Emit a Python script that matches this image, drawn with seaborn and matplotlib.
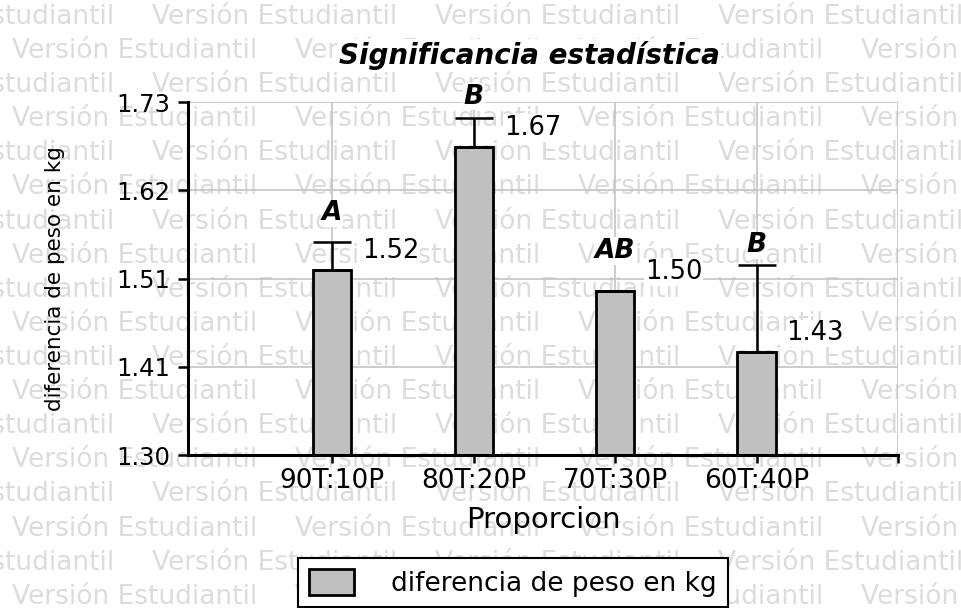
import numpy as np
import pandas as pd
import matplotlib
matplotlib.use("Agg")
import matplotlib.pyplot as plt
import seaborn as sns

# ---- data ----
categories = ["90T:10P", "80T:20P", "70T:30P", "60T:40P"]
values = [1.525, 1.675, 1.50, 1.425]
errors = [0.034, 0.036, 0.0, 0.106]
value_labels = ["1.52", "1.67", "1.50", "1.43"]
letters = ["A", "B", "AB", "B"]
y_ticks = [1.30, 1.4075, 1.515, 1.6225, 1.73]
y_tick_labels = ["1.30", "1.41", "1.51", "1.62", "1.73"]
series_name = "diferencia de peso en kg"

# ---- styling ----
letter_offsets_px = [29, 21, 40, 20]
PX = 0.72  # points per pixel at dpi 100

sns.set_theme(style="white")
plt.rcParams['font.family'] = ['DejaVu Sans']
plt.rcParams['text.color'] = 'black'

fig = plt.figure(figsize=(9.61, 6.08), dpi=100)
fig.patch.set_facecolor("white")

# watermark background
bg = fig.add_axes([0, 0, 1, 1], zorder=0)
bg.set_xlim(0, 961)
bg.set_ylim(608, 0)
bg.axis('off')
for k in range(18):
    y = 17 + 34.1 * k
    start = -131 if k % 2 == 0 else 12
    for x in np.arange(start, 961, 283):
        bg.text(x, y, "Versión Estudiantil", color="#dcdcdc", fontsize=19,
                ha='left', va='center')

ax = fig.add_axes([188 / 961, 1 - 455 / 608, 710 / 961, 353 / 608], zorder=1)
ax.patch.set_alpha(0)

df = pd.DataFrame({"Proporcion": categories, "valor": values})
sns.barplot(data=df, x="Proporcion", y="valor", color="#c0c0c0", saturation=1,
            edgecolor="black", linewidth=2, width=0.27, errorbar=None, ax=ax, zorder=2)
ax.errorbar(np.arange(len(values)), values, yerr=[np.zeros(len(errors)), errors],
            fmt='none', ecolor='black', elinewidth=1.8, capsize=13.5, capthick=1.8, zorder=3)

ax.set_ylim(1.30, 1.73)
ax.set_xlim(-1.02, 4.0)
ax.set_yticks(y_ticks, y_tick_labels)
ax.set_xticks(range(len(categories) + 1), categories + [""])
ax.grid(True, color="#c4c4c4", lw=1.2)
ax.set_axisbelow(True)
for s in ["top", "right"]:
    ax.spines[s].set_visible(False)
for s in ["left", "bottom"]:
    ax.spines[s].set_color("black")
    ax.spines[s].set_linewidth(2.2)
ax.tick_params(axis='y', direction='out', length=7, width=1.8, pad=6, labelsize=17.5,
               left=True, colors='black')
ax.tick_params(axis='x', direction='out', length=6, width=1.8, pad=3, labelsize=19,
               bottom=True, colors='black')

ax.set_ylabel(series_name, fontsize=15.5, color='black')
ax.yaxis.set_label_coords(-0.173, 0.5)
ax.set_xlabel("Proporcion", fontsize=21, color='black')
ax.xaxis.set_label_coords(0.5, -0.145)

for i, (v, e, lab, let, off) in enumerate(zip(values, errors, value_labels, letters, letter_offsets_px)):
    ax.annotate(lab, (i, v), xytext=(30 * PX, 19 * PX), textcoords='offset points',
                ha='left', va='center', fontsize=18.5, zorder=4,
                bbox=dict(fc='white', ec='none', pad=0.5))
    ax.annotate(let, (i, v + e), xytext=(0, off * PX), textcoords='offset points',
                ha='center', va='center', fontsize=19, fontweight='bold', fontstyle='italic',
                zorder=4, bbox=dict(fc='white', ec='none', pad=0.5))

fig.text(529 / 961, 1 - 55 / 608, "Significancia estadística", ha='center', va='center',
         fontsize=20, fontweight='bold', fontstyle='italic', zorder=5,
         bbox=dict(fc='white', ec='none', pad=1))

leg = ax.legend([ax.patches[0]], [series_name], loc='upper left',
                bbox_to_anchor=(298 / 961, 1 - 558 / 608), bbox_transform=fig.transFigure,
                borderaxespad=0, fontsize=19, handlelength=1.74, handleheight=1.17,
                handletextpad=1.4, borderpad=0.4, fancybox=False, framealpha=1,
                edgecolor='black')
leg.get_frame().set_linewidth(1.5)

fig.savefig("out.png", dpi=100)
